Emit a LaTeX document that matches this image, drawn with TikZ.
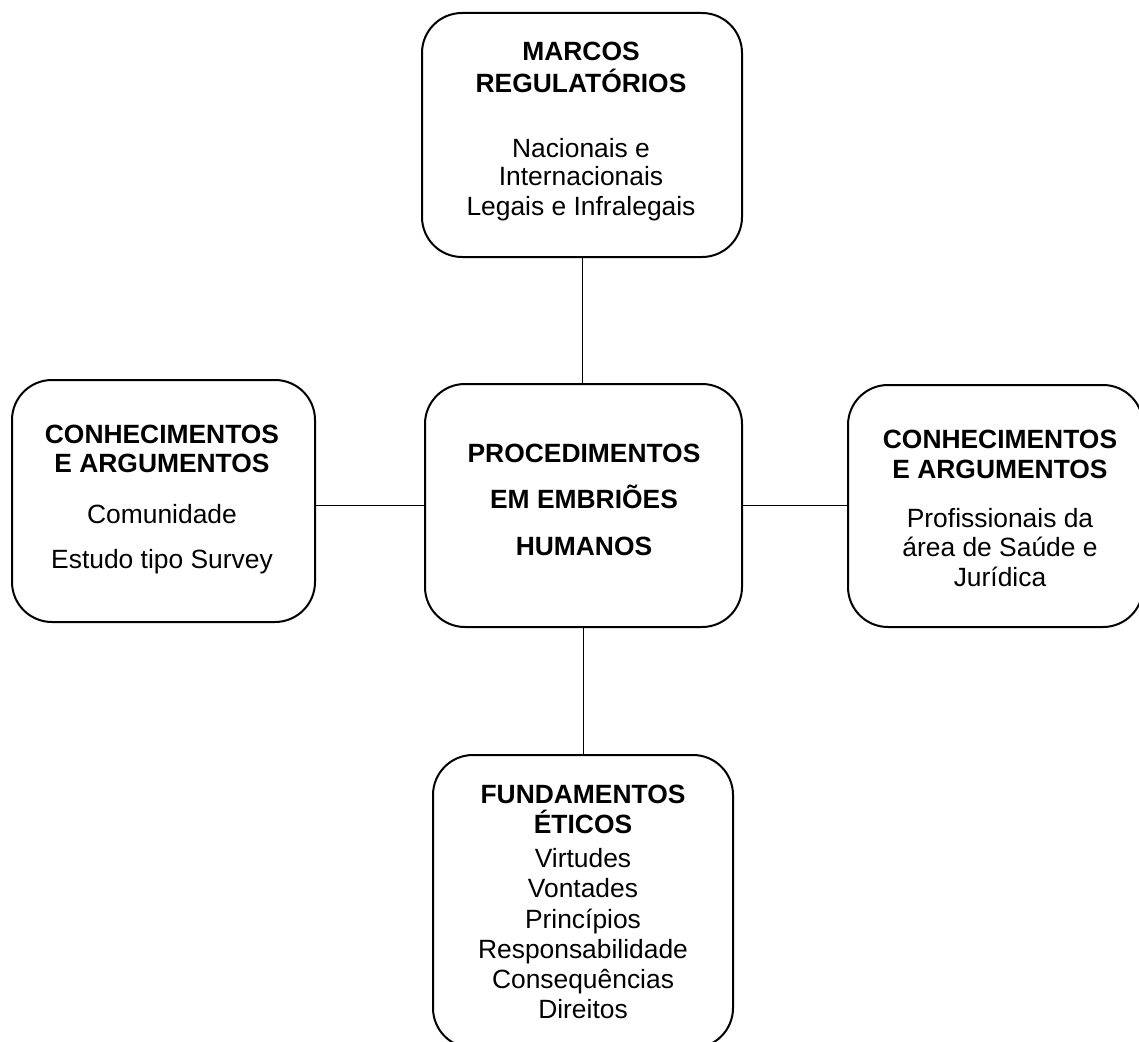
\documentclass[tikz,border=0pt]{standalone}
\usepackage{fontspec}
\setmainfont{Liberation Sans}
\begin{document}
\begin{tikzpicture}[x=1pt,y=-1pt,
  box/.style={draw=black,line width=2pt,rounded corners=40pt,rectangle,inner sep=0pt},
  conn/.style={draw=black,line width=1pt},
  txt/.style={anchor=base,inner sep=0pt,font=\fontsize{26.4}{28}\selectfont},
  btxt/.style={txt,font=\fontsize{26.4}{28}\selectfont\bfseries}]
\useasboundingbox (0,0) rectangle (1139,1041);
% boxes
\node[box,minimum width=320pt,minimum height=244pt] (top) at (582,135) {};
\node[box,minimum width=317pt,minimum height=243pt] (mid) at (583.5,505.5) {};
\node[box,minimum width=303pt,minimum height=242pt] (lft) at (163.5,501) {};
\node[box,minimum width=295pt,minimum height=242pt] (rgt) at (995.5,506) {};
\node[box,minimum width=300pt,minimum height=293pt] (bot) at (583,901.5) {};
% connectors
\draw[conn] (top.south) -- (top.south |- mid.north);
\draw[conn] (mid.west) -- (mid.west -| lft.east);
\draw[conn] (mid.east) -- (mid.east -| rgt.west);
\draw[conn] (mid.south) -- (mid.south |- bot.north);
% top texts
\node[btxt] (t1) at (581,60) {MARCOS};
\node[btxt] (t2) at (581,92) {REGULATÓRIOS};
\node[txt] (t3) at (581,157) {Nacionais e};
\node[txt] (t4) at (581,185) {Internacionais};
\node[txt] (t5) at (581,215) {Legais e Infralegais};
% center texts
\node[btxt] (m1) at (584,462) {PROCEDIMENTOS};
\node[btxt] (m2) at (584,508) {EM EMBRIÕES};
\node[btxt] (m3) at (584,555) {HUMANOS};
% left texts
\node[btxt] (l1) at (162,443) {CONHECIMENTOS};
\node[btxt] (l2) at (162,472) {E ARGUMENTOS};
\node[txt] (l3) at (162,523) {Comunidade};
\node[txt] (l4) at (162,568) {Estudo tipo Survey};
% right texts
\node[btxt] (r1) at (1000,448) {CONHECIMENTOS};
\node[btxt] (r2) at (1000,478) {E ARGUMENTOS};
\node[txt] (r3) at (1000,527) {Profissionais da};
\node[txt] (r4) at (1000,556) {área de Saúde e};
\node[txt] (r5) at (1000,586) {Jurídica};
% bottom texts
\node[btxt] (b1) at (583,803) {FUNDAMENTOS};
\node[btxt] (b2) at (583,833) {ÉTICOS};
\node[txt] (b3) at (583,867) {Virtudes};
\node[txt] (b4) at (583,897) {Vontades};
\node[txt] (b5) at (583,928) {Princípios};
\node[txt] (b6) at (583,958) {Responsabilidade};
\node[txt] (b7) at (583,988) {Consequências};
\node[txt] (b8) at (583,1018) {Direitos};
\end{tikzpicture}
\end{document}
